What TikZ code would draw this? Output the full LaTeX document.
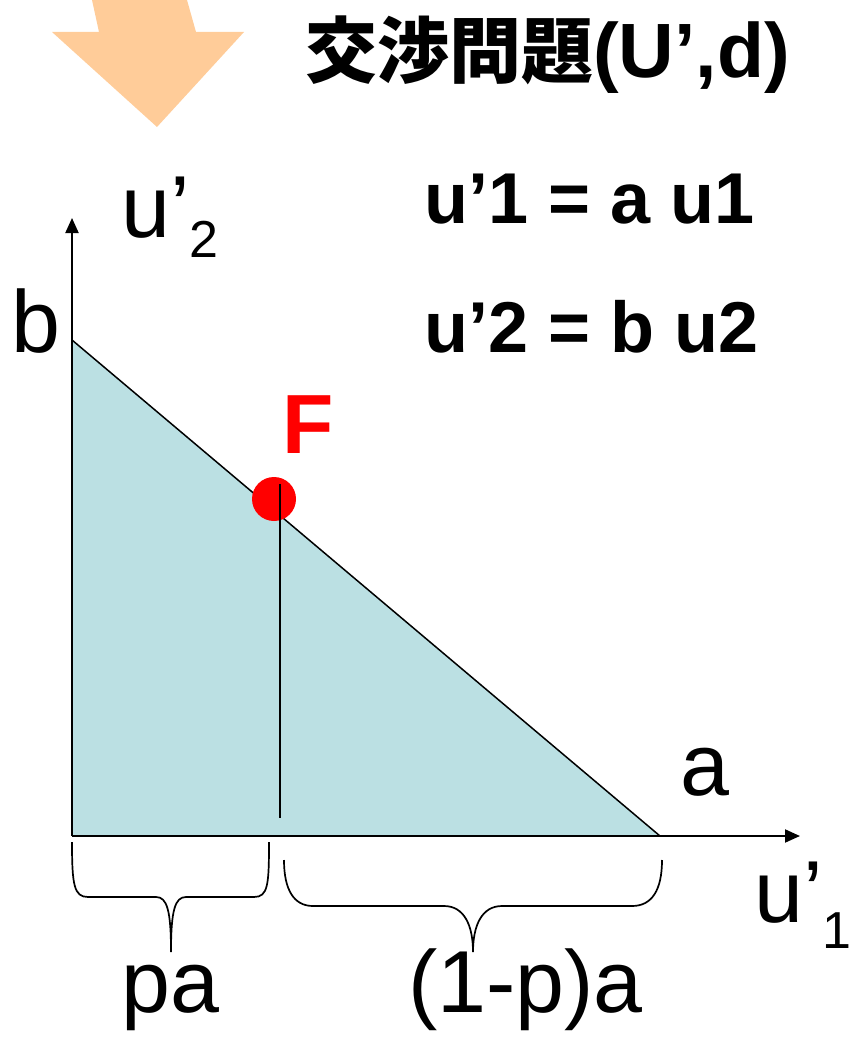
\documentclass[tikz,border=0pt]{standalone}
\usepackage{fontspec}
\setmainfont{Liberation Sans}
\newfontfamily\cjk{Noto Sans CJK JP}
\usepackage{tikz}
\usetikzlibrary{arrows.meta}
\definecolor{gmorange}{RGB}{255,204,153}
\definecolor{gmregion}{RGB}{187,224,227}
\definecolor{gmred}{RGB}{255,0,0}

\begin{document}
\begin{tikzpicture}[x=1pt, y=-1pt,
  axis/.style={line width=2pt, -{Triangle[length=15pt,width=13pt]}},
  lbl/.style={inner sep=0pt, anchor=base west, font=\fontsize{88}{96}\selectfont},
  eqn/.style={inner sep=0pt, anchor=base west, font=\fontsize{72}{80}\selectfont\bfseries},
  brc/.style={line width=1.7pt},
  dot/.style={circle, fill=gmred, inner sep=0pt, minimum size=44pt}]
\useasboundingbox (0,0) rectangle (850,1038);
% big arrow at the top
\fill[gmorange] (92,0) -- (99,32) -- (52,32) -- (157,127) -- (244,32) -- (196,32) -- (187,0) -- cycle;
\node[eqn] (title) at (305,78) {{\cjk\fontsize{72}{80}\selectfont 交渉問題}\fontsize{77}{80}\selectfont(U’,d)};
\node[eqn] (eq1) at (424,223) {u’1 = a u1};
\node[eqn] (eq2) at (424,352) {u’2 = b u2};
% region
\coordinate (O) at (72,836);
\coordinate (B) at (72,340);
\coordinate (A) at (660,836);
\coordinate (ytip) at (72,218);
\coordinate (xtip) at (800,836);
\fill[gmregion] (O) -- (B) -- (A) -- cycle;
\draw[line width=1.5pt] (B) -- (A);
\draw[axis] (O) -- (ytip);
\draw[axis] (O) -- (xtip);
\node[lbl] (blbl) at (11,352) {b};
\node[lbl] (albl) at (680,795) {a};
\node[lbl] (yname) at (121,237) {u’\raisebox{-20pt}{\fontsize{52}{56}\selectfont 2}};
\node[lbl] (xname) at (754,922) {u’\raisebox{-26pt}{\fontsize{52}{56}\selectfont 1}};
% point F
\coordinate (Ftop) at (280,484);
\coordinate (Ffoot) at (280,818);
\node[dot] (F) at (274,499) {};
\draw[line width=1.7pt] (Ftop) -- (Ffoot);
\node[lbl, font=\fontsize{84}{90}\selectfont\bfseries, text=gmred] (Flbl) at (282,453) {F};
% braces
\draw[brc] (72,842) .. controls (72,885) and (74,897) .. (88,897) -- (156,897)
  .. controls (167,897) and (171,910) .. (171,952)
  .. controls (171,910) and (175,897) .. (186,897) -- (254,897)
  .. controls (268,897) and (269,885) .. (269,842);
\draw[brc] (284,860) .. controls (284,890) and (294,906) .. (313,906) -- (444,906)
  .. controls (464,906) and (473,925) .. (473,952)
  .. controls (473,925) and (482,906) .. (502,906) -- (632,906)
  .. controls (652,906) and (662,890) .. (662,860);
\node[lbl] (pa) at (121,1012) {pa};
\node[lbl] (qa) at (408,1012) {(1-p)a};
\end{tikzpicture}
\end{document}
